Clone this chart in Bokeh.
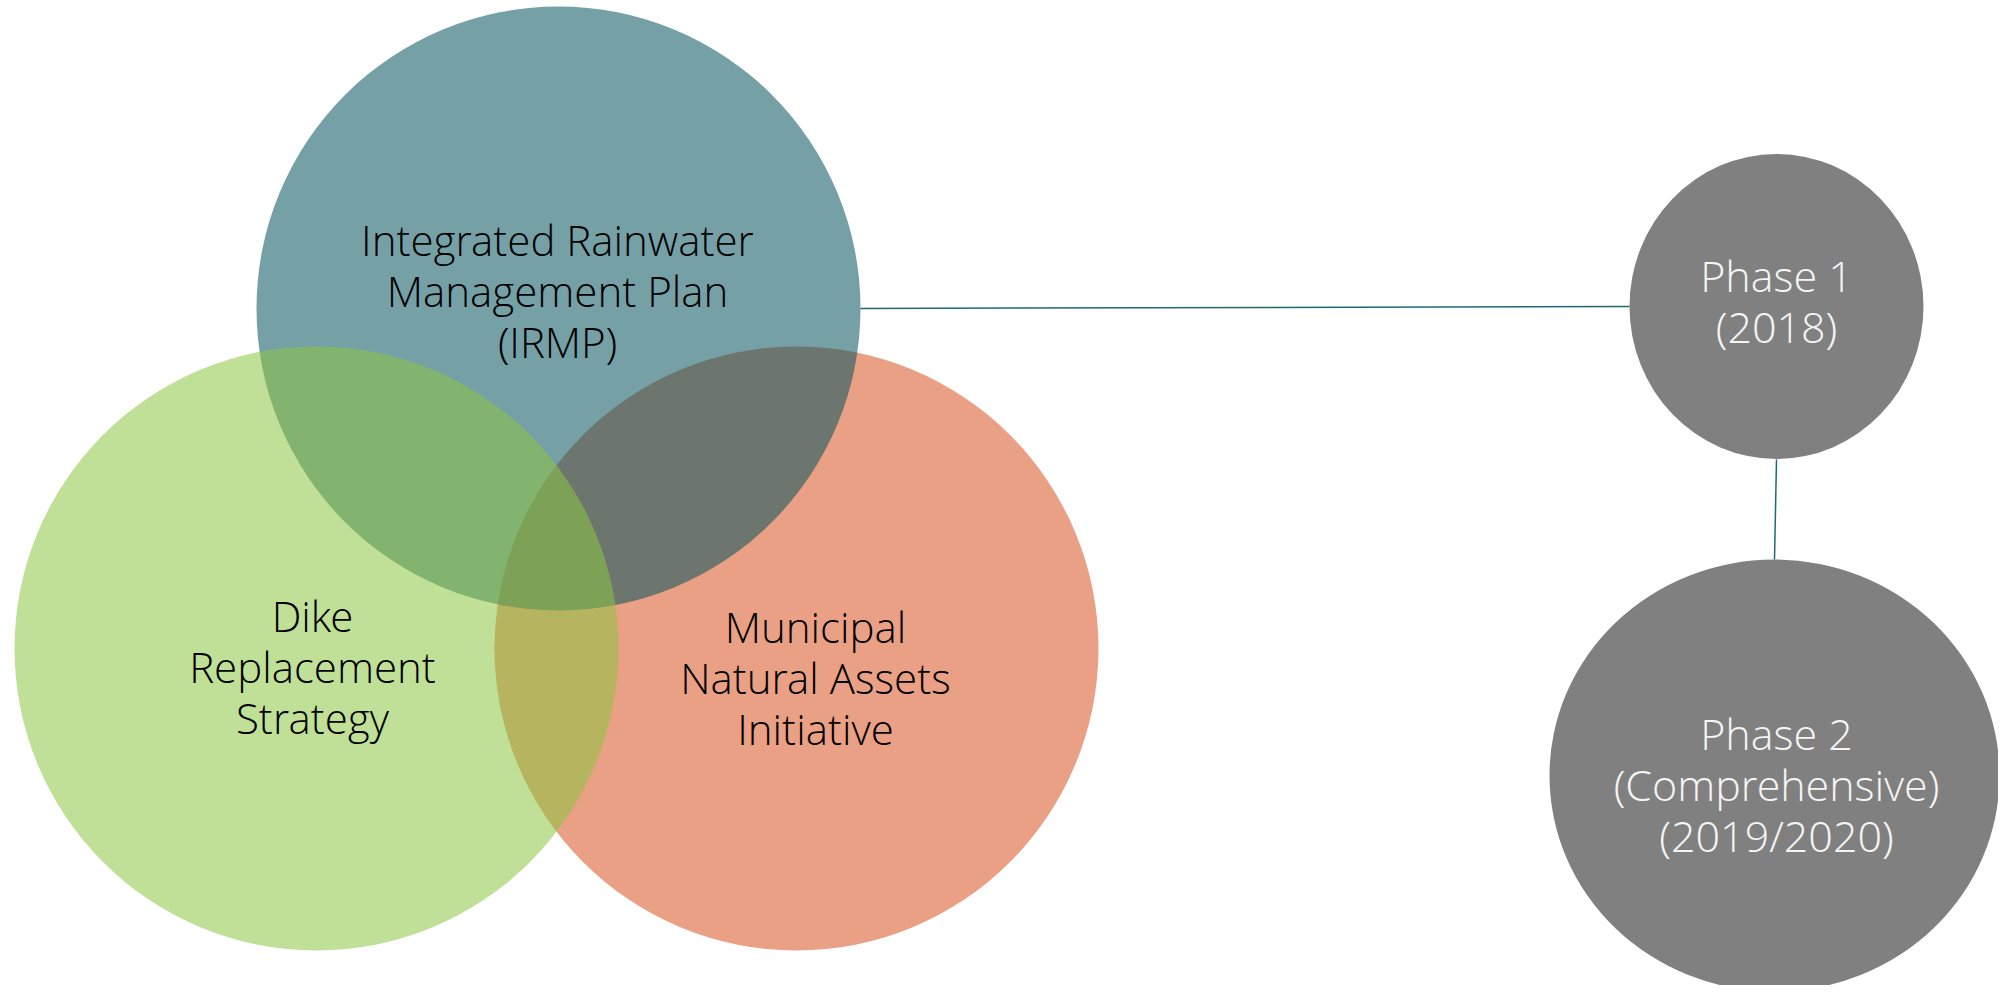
from bokeh.plotting import figure
from bokeh.models import Range1d
from bokeh.embed import file_html
from bokeh.resources import INLINE
from bokeh.core.properties import value

# ---- data ----
venn_names = ["Municipal Natural Assets Initiative", "IRMP", "Dike Replacement Strategy"]  # draw order
venn_cx = [796, 558, 316]
venn_cy = [648, 308, 648]
venn_r = [302, 302, 302]
venn_colors = ["#EAA084", "#04545D", "#8CC542"]
venn_alpha = [1.0, 0.55, 0.55]

venn_labels = [
    ["Integrated Rainwater", "Management Plan", "(IRMP)"],
    ["Dike", "Replacement", "Strategy"],
    ["Municipal", "Natural Assets", "Initiative"],
]
venn_label_x = [557, 312, 815]
venn_label_y0 = [239, 615, 626]

phase_names = ["Phase 1", "Phase 2"]
phase_cx = [1776, 1774]
phase_cy = [306, 775]
phase_w = [294, 450]
phase_h = [305, 432]
phase_labels = [
    ["Phase 1", "(2018)"],
    ["Phase 2", "(Comprehensive)", "(2019/2020)"],
]
phase_label_x = [1776, 1776]
phase_label_y0 = [275, 733]

conn_x0 = [860, 1776]
conn_y0 = [308, 459]
conn_x1 = [1629, 1774]
conn_y1 = [306, 559]

LINE_H = 51
FONT = value("Open Sans Light, Open Sans")

W, H = 1998, 985
p = figure(width=W, height=H, output_backend="svg", toolbar_location=None,
           x_range=Range1d(0, W), y_range=Range1d(H, 0),
           min_border=0, outline_line_color=None,
           background_fill_color="white", border_fill_color="white")
p.axis.visible = False
p.grid.visible = False

# connectors
p.segment(x0=conn_x0, y0=conn_y0, x1=conn_x1, y1=conn_y1,
          line_color="#1E6A74", line_width=1.5)

# venn circles
for cx, cy, r, c, a in zip(venn_cx, venn_cy, venn_r, venn_colors, venn_alpha):
    p.ellipse(x=[cx], y=[cy], width=[2 * r], height=[2 * r],
              fill_color=c, fill_alpha=a, line_color=None)

# phase ellipses
p.ellipse(x=phase_cx, y=phase_cy, width=phase_w, height=phase_h,
          fill_color="#808080", line_color=None)

# venn labels
for lines, lx, ly in zip(venn_labels, venn_label_x, venn_label_y0):
    p.text(x=[lx] * len(lines), y=[ly + i * LINE_H for i in range(len(lines))],
           text=lines, text_font=FONT, text_font_size="42px",
           text_color="#000000", text_align="center", text_baseline="alphabetic")

# phase labels
for lines, lx, ly in zip(phase_labels, phase_label_x, phase_label_y0):
    p.text(x=[lx] * len(lines), y=[ly + i * LINE_H for i in range(len(lines))],
           text=lines, text_font=FONT, text_font_size="43px",
           text_color="#F5F5F5", text_align="center", text_baseline="alphabetic")

open("out.html", "w").write(file_html(p, INLINE))
